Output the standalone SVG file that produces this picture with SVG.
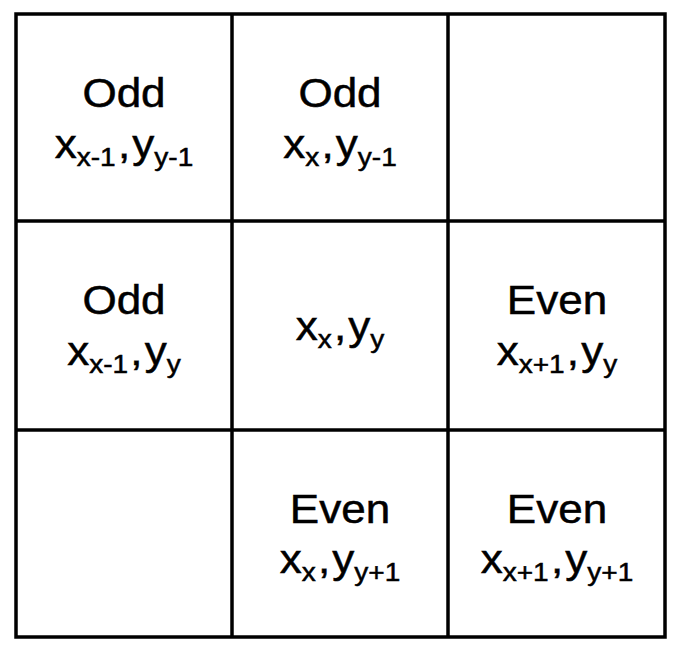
<svg xmlns="http://www.w3.org/2000/svg" width="678" height="648" viewBox="0 0 678 648">
<style>
.grid{stroke:#000;stroke-width:3.5;fill:none}
text{font-family:"Liberation Sans",Arial,Helvetica,sans-serif;font-size:40px;fill:#000;stroke:#000;stroke-width:0.5;text-anchor:middle}
.s{font-size:25.5px}
</style>
<rect width="678" height="648" fill="#fff"/>
<g id="grid">
<rect class="grid" x="16" y="14" width="649" height="623"/>
<line class="grid" x1="232" y1="14" x2="232" y2="637"/>
<line class="grid" x1="448" y1="14" x2="448" y2="637"/>
<line class="grid" x1="16" y1="221" x2="665" y2="221"/>
<line class="grid" x1="16" y1="430" x2="665" y2="430"/>
</g>
<g id="c11" transform="translate(124,0) scale(1.1,1)"><text x="0" y="107">Odd</text><text x="0" y="158">x<tspan class="s" dy="8">x-1</tspan><tspan dy="-8" dx="2">,</tspan><tspan dx="2">y</tspan><tspan class="s" dy="8">y-1</tspan></text></g>
<g id="c12" transform="translate(340,0) scale(1.1,1)"><text x="0" y="107">Odd</text><text x="0" y="158">x<tspan class="s" dy="8">x</tspan><tspan dy="-8" dx="2">,</tspan><tspan dx="2">y</tspan><tspan class="s" dy="8">y-1</tspan></text></g>
<g id="c21" transform="translate(124,0) scale(1.1,1)"><text x="0" y="314">Odd</text><text x="0" y="365">x<tspan class="s" dy="8">x-1</tspan><tspan dy="-8" dx="2">,</tspan><tspan dx="2">y</tspan><tspan class="s" dy="8">y</tspan></text></g>
<g id="c22" transform="translate(340,0) scale(1.1,1)"><text x="0" y="340">x<tspan class="s" dy="8">x</tspan><tspan dy="-8" dx="2">,</tspan><tspan dx="2">y</tspan><tspan class="s" dy="8">y</tspan></text></g>
<g id="c23" transform="translate(557,0) scale(1.1,1)"><text x="0" y="314">Even</text><text x="0" y="365">x<tspan class="s" dy="8">x+1</tspan><tspan dy="-8" dx="2">,</tspan><tspan dx="2">y</tspan><tspan class="s" dy="8">y</tspan></text></g>
<g id="c32" transform="translate(340,0) scale(1.1,1)"><text x="0" y="523">Even</text><text x="0" y="573">x<tspan class="s" dy="8">x</tspan><tspan dy="-8" dx="2">,</tspan><tspan dx="2">y</tspan><tspan class="s" dy="8">y+1</tspan></text></g>
<g id="c33" transform="translate(557,0) scale(1.1,1)"><text x="0" y="523">Even</text><text x="0" y="573">x<tspan class="s" dy="8">x+1</tspan><tspan dy="-8" dx="2">,</tspan><tspan dx="2">y</tspan><tspan class="s" dy="8">y+1</tspan></text></g>
</svg>
